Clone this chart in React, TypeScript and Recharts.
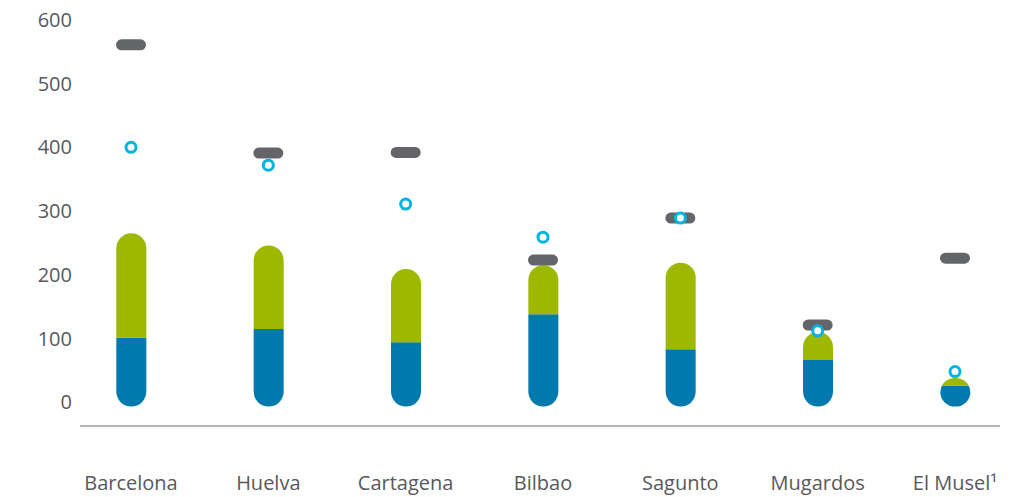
import React from 'react';
import { ComposedChart, Bar, Line, XAxis, YAxis } from 'recharts';

const categories = ['Barcelona', 'Huelva', 'Cartagena', 'Bilbao', 'Sagunto', 'Mugardos', 'El Musel¹'];
const baseValues = [101, 115, 94, 138, 83, 66, 26];
const topValues = [164, 131, 115, 77, 136, 44, 12];
const markerValues = [561, 391, 392, 223, 289, 121, 226];
const pointValues = [400, 372, 311, 259, 289, 112, 48];
const yTicks = [0, 100, 200, 300, 400, 500, 600];

const data = categories.map((name, i) => ({
  name,
  base: baseValues[i],
  top: topValues[i],
  marker: markerValues[i],
  point: pointValues[i],
}));

const BLUE = '#007aae';
const GREEN = '#9cb800';
const GRAY = '#646569';
const CYAN = '#00b4e1';
const TEXT = '#58595b';
const FONT = '"Open Sans", sans-serif';
const BELOW = 4.5;

const pill = (x: number, w: number, top: number, bottom: number, fill: string, clipId: string, cy1: number, cy2: number) => {
  const h = bottom - top;
  const r = w / 2;
  return (
    <g>
      <defs>
        <clipPath id={clipId}>
          <rect x={x - 1} y={cy1} width={w + 2} height={Math.max(0, cy2 - cy1)} />
        </clipPath>
      </defs>
      <rect x={x} y={top} width={w} height={h} rx={r} ry={Math.min(r, h / 2)} fill={fill} clipPath={`url(#${clipId})`} />
    </g>
  );
};

const BaseShape = (props: any) => {
  const { x, y, width, height, payload, index } = props;
  if (!payload || !height) return null;
  const zeroY = y + height;
  const ppu = height / payload.base;
  const totalTop = zeroY - (payload.base + payload.top) * ppu;
  const bottom = zeroY + BELOW;
  return pill(x, width, totalTop, bottom, BLUE, `clip-base-${index}`, y, bottom + 1);
};

const TopShape = (props: any) => {
  const { x, y, width, height, payload, index } = props;
  if (!payload || !height) return null;
  const ppu = height / payload.top;
  const zeroY = y + (payload.base + payload.top) * ppu;
  const bottom = zeroY + BELOW;
  return pill(x, width, y, bottom, GREEN, `clip-top-${index}`, y - 1, y + height);
};

const renderDash = (props: any) => {
  const { cx, cy, index } = props;
  if (cx == null || cy == null) return <g key={`d-${index}`} />;
  return <rect key={`d-${index}`} x={cx - 15} y={cy - 5.5} width={30} height={11} rx={5.5} ry={5.5} fill={GRAY} />;
};

const renderRing = (props: any) => {
  const { cx, cy, index } = props;
  if (cx == null || cy == null) return <g key={`r-${index}`} />;
  return <circle key={`r-${index}`} cx={cx} cy={cy} r={5} fill="#ffffff" stroke={CYAN} strokeWidth={3} />;
};

const XTick = (props: any) => {
  const { x, y, payload } = props;
  return (
    <text x={x} y={y + 64} textAnchor="middle" fill={TEXT} fontSize={20} fontFamily={FONT}>
      {payload.value}
    </text>
  );
};

export default function App() {
  return (
    <div style={{ position: 'absolute', left: 0, top: 0, width: 1018, height: 497, background: '#ffffff' }}>
      <ComposedChart width={1018} height={497} data={data} margin={{ top: 20, right: 18, bottom: 0, left: 0 }}>
        <XAxis
          dataKey="name"
          height={71}
          axisLine={{ stroke: '#6d6e71', strokeWidth: 1.2 }}
          tickLine={false}
          tickSize={0}
          tickMargin={0}
          padding={{ left: -17.67, right: -23.67 }}
          tick={<XTick />}
          interval={0}
        />
        <YAxis
          width={80}
          type="number"
          domain={[-37.5, 600]}
          ticks={yTicks}
          axisLine={false}
          tickLine={false}
          tickSize={0}
          tickMargin={8}
          tick={{ fill: TEXT, fontSize: 20, fontFamily: FONT }}
        />
        <Bar dataKey="base" stackId="s" barSize={30} shape={<BaseShape />} isAnimationActive={false} />
        <Bar dataKey="top" stackId="s" barSize={30} shape={<TopShape />} isAnimationActive={false} />
        <Line dataKey="marker" stroke="none" dot={renderDash} activeDot={false} isAnimationActive={false} legendType="none" />
        <Line dataKey="point" stroke="none" dot={renderRing} activeDot={false} isAnimationActive={false} legendType="none" />
      </ComposedChart>
    </div>
  );
}
